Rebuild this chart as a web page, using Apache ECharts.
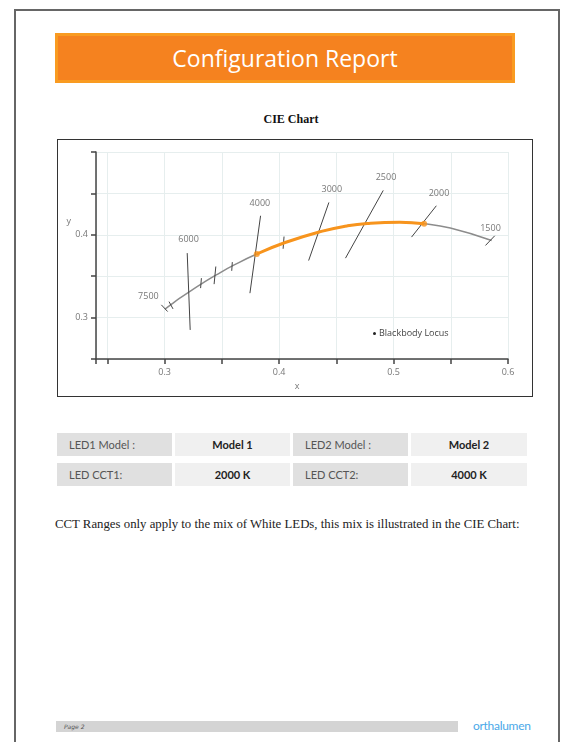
<!DOCTYPE html>
<html>
<head>
<meta charset="UTF-8">
<title>Configuration Report</title>
<script src="https://cdn.jsdelivr.net/npm/echarts@6/dist/echarts.min.js"></script>
<style>
    body { margin: 0; width: 564px; height: 742px; background: #fff; position: relative; overflow: hidden; }
    .page { position: absolute; left: 14px; top: 9px; width: 546px; height: 800px; border: 2px solid #666; box-sizing: border-box; }
    .banner { position: absolute; left: 55px; top: 33px; width: 460px; height: 50px; box-sizing: border-box;
              background: #f5821f; border: 3px solid #f99b21; color: #fff; text-align: center;
              font-family: "Open Sans", sans-serif; font-size: 23px; line-height: 44px; }
    .chart-title { position: absolute; left: 0; width: 582px; top: 112px; text-align: center;
                   font-family: "Liberation Serif", serif; font-weight: bold; font-size: 12px; color: #111; }
    .chart-box { position: absolute; left: 57px; top: 139px; width: 476px; height: 258px; box-sizing: border-box; border: 1px solid #333; }
    #main { position: absolute; left: 58px; top: 140px; width: 474px; height: 256px; }
    .cell { position: absolute; height: 23px; line-height: 23px; font-family: Lato, sans-serif; font-size: 11px; box-sizing: border-box; }
    .lab { background: #e0e0e0; color: #555; padding-left: 12px; }
    .val { background: #f0f0f0; color: #222; font-weight: bold; text-align: center; }
    .para { position: absolute; left: 55px; top: 517px; font-family: "Liberation Serif", serif; font-size: 12.8px; color: #222; }
    .footer { position: absolute; left: 56px; top: 721px; width: 402px; height: 11px; background: #d4d4d4;
              font-family: "DejaVu Sans", sans-serif; font-style: italic; font-size: 6px; line-height: 11px; color: #555; padding-left: 8px; box-sizing: border-box; }
    .logo { position: absolute; left: 473px; top: 718px; font-family: Lato, sans-serif; font-size: 12px; color: #4aa8e8; letter-spacing: -0.3px; }
</style>
</head>
<body>
<div class="page"></div>
<div class="banner">Configuration Report</div>
<div class="chart-title">CIE Chart</div>
<div class="chart-box"></div>
<div id="main"></div>

<div class="cell lab" style="left:57px;top:433px;width:115px">LED1 Model :</div>
<div class="cell val" style="left:175px;top:433px;width:115px">Model 1</div>
<div class="cell lab" style="left:293px;top:433px;width:115px">LED2 Model :</div>
<div class="cell val" style="left:411px;top:433px;width:116px">Model 2</div>
<div class="cell lab" style="left:57px;top:463px;width:115px">LED CCT1:</div>
<div class="cell val" style="left:175px;top:463px;width:115px">2000 K</div>
<div class="cell lab" style="left:293px;top:463px;width:115px">LED CCT2:</div>
<div class="cell val" style="left:411px;top:463px;width:116px">4000 K</div>

<div class="para">CCT Ranges only apply to the mix of White LEDs, this mix is illustrated in the CIE Chart:</div>
<div class="footer">Page 2</div>
<div class="logo">orthalumen</div>

<script type="text/javascript">
    // blackbody locus points (CIE 1931 x, y)
    var locusCct = [1500, 1800, 2000, 2200, 2500, 2700, 3000, 3500, 4000, 4500, 5000, 5500, 6000, 6500, 7000, 7500];
    var locusX = [0.5857, 0.5496, 0.5267, 0.5055, 0.4770, 0.4593, 0.4369, 0.4053, 0.3805, 0.3608, 0.3451, 0.3325, 0.3221, 0.3135, 0.3064, 0.3003];
    var locusY = [0.3931, 0.4081, 0.4133, 0.4152, 0.4137, 0.4107, 0.4041, 0.3907, 0.3768, 0.3636, 0.3516, 0.3411, 0.3318, 0.3237, 0.3166, 0.3103];

    // LED mix range
    var mixCct = [2000, 4000];

    // isotherm lines
    var isoCct = [7500, 7000, 6000, 5500, 5000, 4500, 4000, 3500, 3000, 2500, 2000, 1500];
    var isoStart = [[0.2971, 0.3154], [0.3038, 0.3193], [0.3197, 0.3779], [0.3321, 0.3476], [0.3447, 0.3617], [0.3591, 0.3670],
                    [0.3838, 0.4230], [0.4043, 0.3979], [0.4435, 0.4391], [0.4910, 0.4536], [0.5374, 0.4351], [0.5884, 0.3988]];
    var isoEnd = [[0.3026, 0.3073], [0.3073, 0.3105], [0.3223, 0.2851], [0.3314, 0.3356], [0.3432, 0.3404], [0.3586, 0.3565],
                  [0.3745, 0.3295], [0.4035, 0.3831], [0.4258, 0.3689], [0.4580, 0.3718], [0.5157, 0.3972], [0.5803, 0.3871]];

    // CCT labels
    var labelCct = [7500, 6000, 4000, 3000, 2500, 2000, 1500];
    var labelX = [0.2858, 0.3209, 0.3832, 0.4461, 0.4934, 0.5397, 0.5847];
    var labelY = [0.3250, 0.3940, 0.4383, 0.4553, 0.4693, 0.4504, 0.4081];

    // axis ticks
    var xTicks = [0.24, 0.25, 0.3, 0.35, 0.4, 0.45, 0.5, 0.55, 0.6];
    var xLabels = [0.3, 0.4, 0.5, 0.6];
    var yLabels = [0.3, 0.4];

    var locus = [], mix = [], mixEnds = [], isoLines = [], labels = [];
    for (var i = 0; i < locusCct.length; i++) {
        locus.push([locusX[i], locusY[i]]);
        if (locusCct[i] >= mixCct[0] && locusCct[i] <= mixCct[1]) mix.push([locusX[i], locusY[i]]);
        if (locusCct[i] === mixCct[0] || locusCct[i] === mixCct[1]) mixEnds.push([locusX[i], locusY[i]]);
    }
    for (var j = 0; j < isoCct.length; j++) {
        isoLines.push({ name: String(isoCct[j]), coords: [isoStart[j], isoEnd[j]] });
    }
    for (var k = 0; k < labelCct.length; k++) {
        labels.push([labelX[k], labelY[k], labelCct[k]]);
    }

    var myChart = echarts.init(document.getElementById('main'));
    var axisFont = { color: '#777', fontSize: 9, fontFamily: 'Open Sans' };
    var option = {
        animation: false,
        grid: { left: 38, right: 24, top: 12, bottom: 37 },
        legend: {
            data: [{ name: 'Blackbody Locus', icon: 'circle', itemStyle: { color: '#222' } }],
            left: 310, top: 184,
            itemWidth: 3, itemHeight: 3, itemGap: 4,
            textStyle: { fontSize: 9, color: '#444', fontFamily: 'Open Sans', padding: [0, 0, 0, -2] }
        },
        xAxis: {
            type: 'value', min: 0.24, max: 0.6,
            name: 'x', nameLocation: 'middle', nameGap: 15,
            nameTextStyle: { color: '#777', fontSize: 9, fontFamily: 'Open Sans', padding: [0, 10, 0, 0] },
            axisLine: { lineStyle: { color: '#444', width: 1.5 } },
            axisTick: { customValues: xTicks, length: 5, lineStyle: { color: '#444', width: 1.5 } },
            axisLabel: Object.assign({ customValues: xLabels, margin: 9 }, axisFont),
            splitLine: { show: true, lineStyle: { color: '#e6eeee', width: 1 } }
        },
        yAxis: {
            type: 'value', min: 0.25, max: 0.5, interval: 0.05,
            name: 'y', nameLocation: 'end', nameGap: -74,
            nameTextStyle: { color: '#777', fontSize: 9, fontFamily: 'Open Sans', align: 'right', padding: [0, 25, 0, 0] },
            axisLine: { show: true, lineStyle: { color: '#444', width: 1.5 } },
            axisTick: { show: true, length: 5, lineStyle: { color: '#444', width: 1.5 } },
            axisLabel: Object.assign({ customValues: yLabels, margin: 8 }, axisFont),
            splitLine: { show: true, lineStyle: { color: '#e6eeee', width: 1 } }
        },
        series: [
            {
                name: 'Blackbody Locus', type: 'line', data: locus, smooth: true,
                showSymbol: false, lineStyle: { color: '#8c8c8c', width: 1.5 }, itemStyle: { color: '#222' }, z: 2
            },
            {
                name: 'Isotherms', type: 'lines', coordinateSystem: 'cartesian2d', data: isoLines,
                lineStyle: { color: '#444', width: 1, opacity: 1 }, z: 3
            },
            {
                name: 'Mix', type: 'line', data: mix, smooth: true, showSymbol: false,
                lineStyle: { color: '#f7941d', width: 3 }, z: 4
            },
            {
                name: 'Mix ends', type: 'scatter', data: mixEnds, symbolSize: 6,
                itemStyle: { color: '#f7941d' }, z: 5
            },
            {
                name: 'CCT', type: 'scatter', data: labels, symbolSize: 0,
                label: {
                    show: true, position: 'inside', fontSize: 9, color: '#555', fontFamily: 'Open Sans',
                    formatter: function (p) { return p.value[2]; }
                }, z: 6
            }
        ]
    };
    myChart.setOption(option);
</script>
</body>
</html>
